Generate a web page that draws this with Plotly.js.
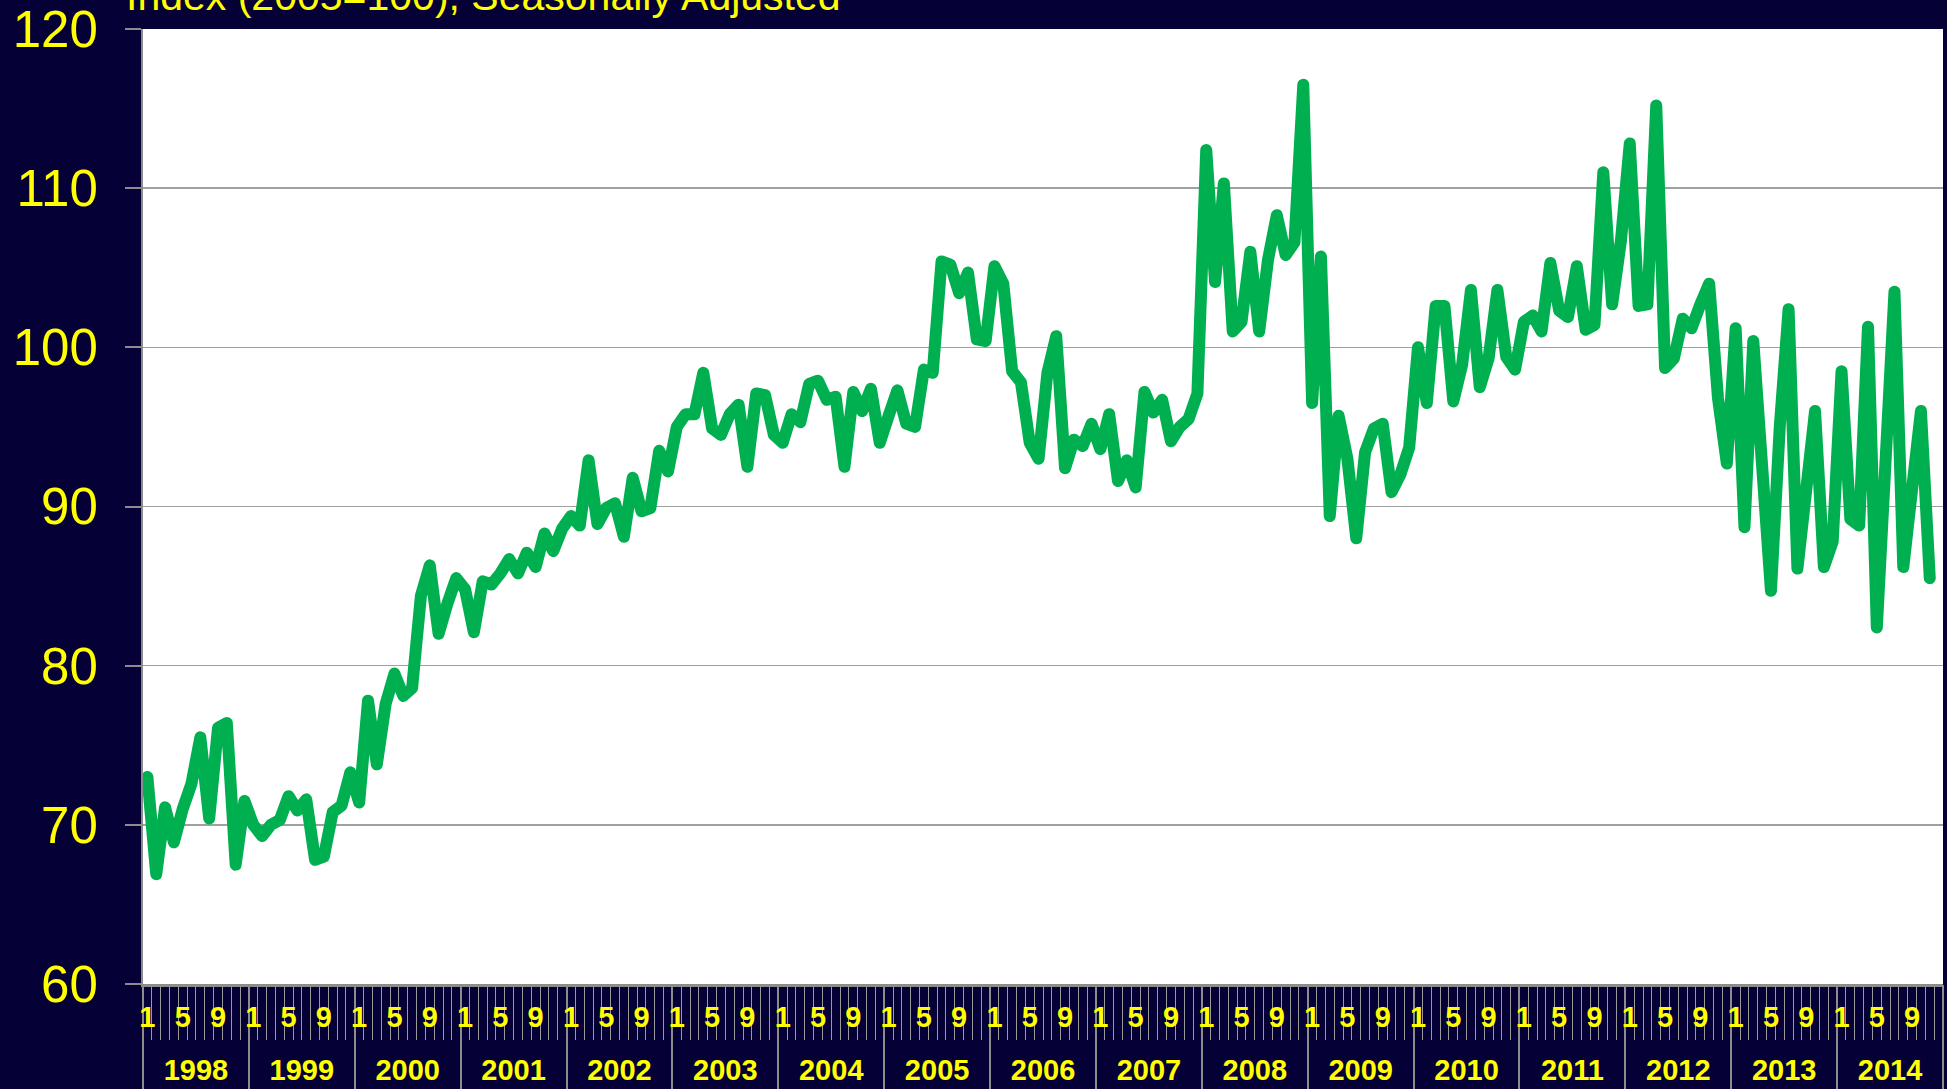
<!DOCTYPE html>
<html>
<head>
<meta charset="utf-8">
<script src="https://cdn.plot.ly/plotly-3.0.1.min.js"></script>
<style>
  html, body { margin: 0; padding: 0; background: #050036; }
  #chart { width: 1947px; height: 1089px; }
  .scatterlayer .js-line { stroke-linejoin: round !important; stroke-linecap: round !important; }
</style>
</head>
<body>
<div id="chart"></div>
<script>
// monthly index, Jan 1998 .. Nov 2014
const years = [1998, 1999, 2000, 2001, 2002, 2003, 2004, 2005, 2006,
  2007, 2008, 2009, 2010, 2011, 2012, 2013, 2014];
const monthLabels = ["1", "5", "9"];
const labelMonths = [1, 5, 9];
const indexValues = [
  73.0, 66.9, 71.1, 68.9, 71.0, 72.6, 75.5, 70.4, 76.1, 76.4, 67.5, 71.5,
  70.0, 69.3, 70.0, 70.3, 71.8, 70.9, 71.6, 67.8, 68.0, 70.8, 71.2, 73.3,
  71.4, 77.8, 73.8, 77.6, 79.5, 78.1, 78.6, 84.4, 86.3, 82.0, 83.9, 85.5,
  84.8, 82.1, 85.3, 85.1, 85.8, 86.7, 85.8, 87.1, 86.2, 88.3, 87.2, 88.6,
  89.4, 88.8, 92.9, 88.9, 89.9, 90.2, 88.1, 91.8, 89.7, 89.9, 93.5, 92.2,
  95.0, 95.8, 95.8, 98.4, 94.9, 94.5, 95.8, 96.4, 92.5, 97.1, 97.0, 94.5,
  94.0, 95.8, 95.3, 97.7, 97.9, 96.7, 96.9, 92.5, 97.2, 96.0, 97.4, 94.0,
  95.7, 97.3, 95.2, 95.0, 98.6, 98.4, 105.4, 105.2, 103.4, 104.7, 100.5, 100.4,
  105.1, 104.0, 98.5, 97.8, 94.0, 93.0, 98.4, 100.7, 92.4, 94.2, 93.8, 95.2,
  93.6, 95.8, 91.6, 92.9, 91.2, 97.2, 95.9, 96.7, 94.1, 95.0, 95.5, 97.1,
  112.4, 104.1, 110.3, 101.0, 101.6, 106.0, 101.0, 105.5, 108.3, 105.8, 106.6, 116.5,
  96.5, 105.7, 89.4, 95.7, 93.0, 88.0, 93.4, 94.9, 95.2, 90.9, 92.0, 93.7,
  100.0, 96.5, 102.6, 102.6, 96.6, 98.9, 103.6, 97.5, 99.3, 103.6, 99.4, 98.6,
  101.6, 102.0, 101.0, 105.3, 102.3, 101.9, 105.1, 101.1, 101.4, 111.0, 102.7, 106.7,
  112.8, 102.6, 102.7, 115.2, 98.7, 99.3, 101.8, 101.2, 102.7, 104.0, 96.8, 92.7,
  101.2, 88.7, 100.4, 92.5, 84.7, 95.0, 102.4, 86.1, 90.5, 96.0, 86.2, 87.8,
  98.5, 89.2, 88.8, 101.3, 82.4, 93.0, 103.5, 86.2, 91.5, 96.0, 85.5
];

const navy = "#050036";
const yellow = "#ffff00";
const grey = "#8c8c8c";
const fontFam = 'Arial, "Liberation Sans", sans-serif';

const nMonths = years.length * 12;
const xRange = [-0.5, nMonths - 0.5];
const xs = indexValues.map((v, i) => i);

const monthEdges = [];
for (let i = 0; i <= nMonths; i++) monthEdges.push(i - 0.5);
const yearEdges = years.map((y, k) => k * 12 - 0.5).concat([nMonths - 0.5]);
const yearCenters = years.map((y, k) => k * 12 + 5.5);

const labelPos = [];
const labelText = [];
years.forEach((y, k) => {
  labelMonths.forEach((m, j) => {
    labelPos.push(k * 12 + m - 1);
    labelText.push(monthLabels[j]);
  });
});

const trace = {
  x: xs,
  y: indexValues,
  type: "scatter",
  mode: "lines",
  line: { color: "#00b050", width: 12 },
  hoverinfo: "skip",
};

// empty-looking traces so the extra bottom axes get drawn
const helpers = ["x2", "x3", "x4"].map((ax) => ({
  x: xs,
  y: indexValues,
  xaxis: ax,
  yaxis: "y",
  type: "scatter",
  mode: "none",
  hoverinfo: "skip",
}));

const overlay = {
  overlaying: "x",
  anchor: "y",
  side: "bottom",
  range: xRange,
  autorange: false,
  tickmode: "array",
  showgrid: false,
  zeroline: false,
  showline: false,
  tickangle: 0,
};

const layout = {
  width: 1947,
  height: 1089,
  paper_bgcolor: navy,
  plot_bgcolor: "#ffffff",
  margin: { l: 143, r: 4, t: 29, b: 105 },
  showlegend: false,
  font: { family: fontFam, color: yellow },
  xaxis: {
    range: xRange,
    autorange: false,
    tickmode: "array",
    tickvals: monthEdges,
    ticks: "outside",
    ticklen: 53,
    tickwidth: 1,
    tickcolor: "#9a9a9a",
    showticklabels: false,
    showgrid: false,
    zeroline: false,
    showline: true,
    linecolor: grey,
    linewidth: 3,
  },
  xaxis2: Object.assign({}, overlay, {
    tickvals: yearEdges,
    ticks: "outside",
    ticklen: 110,
    tickwidth: 2,
    tickcolor: grey,
    showticklabels: false,
  }),
  xaxis3: Object.assign({}, overlay, {
    tickvals: labelPos,
    ticktext: labelText,
    ticks: "",
    ticklabelstandoff: 13,
    tickfont: { family: fontFam, size: 29, color: yellow, weight: "bold" },
  }),
  xaxis4: Object.assign({}, overlay, {
    tickvals: yearCenters,
    ticktext: years.map(String),
    ticks: "",
    ticklabelstandoff: 66,
    tickfont: { family: fontFam, size: 29, color: yellow, weight: "bold" },
  }),
  yaxis: {
    range: [60, 120],
    autorange: false,
    tick0: 60,
    dtick: 10,
    ticks: "outside",
    ticklen: 16,
    tickwidth: 2,
    tickcolor: grey,
    ticklabelstandoff: 17,
    tickfont: { family: fontFam, size: 51, color: yellow },
    showgrid: true,
    gridcolor: "#a0a0a0",
    gridwidth: 1.5,
    showline: true,
    linecolor: grey,
    linewidth: 2,
    zeroline: false,
  },
  annotations: [{
    text: "Index (2005=100), Seasonally Adjusted",
    xref: "paper",
    yref: "paper",
    x: -0.0106,
    y: 1,
    xanchor: "left",
    yanchor: "bottom",
    yshift: 8,
    showarrow: false,
    font: { family: fontFam, size: 41, color: yellow },
  }],
};

Plotly.newPlot("chart", [trace].concat(helpers), layout, { staticPlot: true });
</script>
</body>
</html>
